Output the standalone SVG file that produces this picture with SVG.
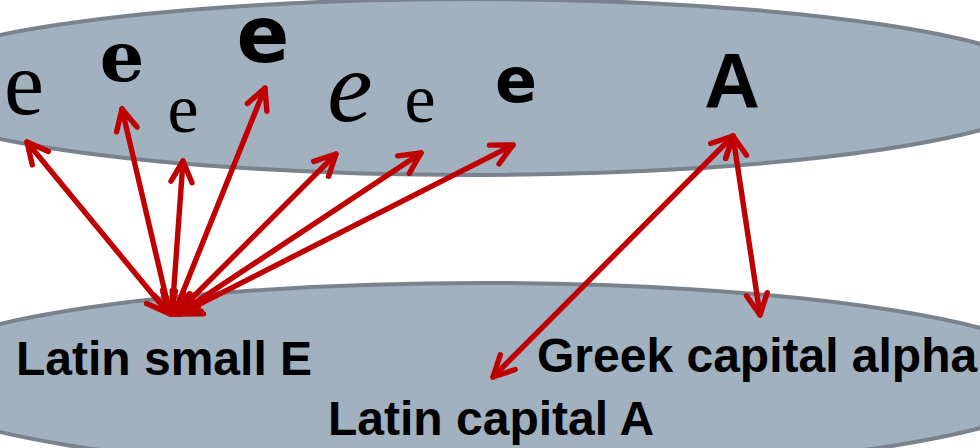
<svg xmlns="http://www.w3.org/2000/svg" width="980" height="448" viewBox="0 0 980 448">
<style>
.set{fill:#A2B1C0;stroke:#78838E;stroke-width:4}
.lbl{font-family:"Liberation Sans",Arial,sans-serif;font-weight:bold;font-size:48px;fill:#000}
.g{fill:#000;text-anchor:middle}
.arr{stroke:#C00000;stroke-width:5.4;fill:none;stroke-linecap:round;marker-start:url(#ah);marker-end:url(#ah)}
</style>
<defs>
<marker id="ah" viewBox="-28 -15 32 30" refX="0" refY="0" markerWidth="32" markerHeight="30" markerUnits="userSpaceOnUse" orient="auto-start-reverse">
<path d="M-21,-10.5 L0,0 L-21,10.5" fill="none" stroke="#C00000" stroke-width="5.4" stroke-linecap="round" stroke-linejoin="round"/>
</marker>
</defs>
<g id="bottom-set">
<ellipse class="set" cx="482" cy="378" rx="586" ry="95"/>
<text class="lbl" x="16" y="375">Latin small E</text>
<text class="lbl" x="537" y="372">Greek capital alpha</text>
<text class="lbl" x="328" y="435">Latin capital A</text>
</g>
<g id="top-set">
<ellipse class="set" cx="471" cy="87" rx="584" ry="88"/>
<text class="g" x="24" y="114" style="font-family:'Liberation Serif',serif;font-size:90px">e</text>
<text class="g" x="122" y="81" style="font-family:'DejaVu Serif',serif;font-weight:bold;font-size:70px">e</text>
<text class="g" x="183" y="132" style="font-family:'Liberation Serif',serif;font-size:70px">e</text>
<text class="g" x="263" y="62" style="font-family:'DejaVu Sans',sans-serif;font-weight:bold;font-size:78px">e</text>
<text class="g" x="350" y="121" style="font-family:'Liberation Serif',serif;font-style:italic;font-size:102px">e</text>
<text class="g" x="420" y="122" style="font-family:'Liberation Serif',serif;font-size:70px">e</text>
<text class="g" x="516" y="102" style="font-family:'DejaVu Sans',sans-serif;font-weight:bold;font-size:62px">e</text>
<text class="g" x="732" y="108" style="font-family:'Liberation Sans',sans-serif;font-weight:bold;font-size:77px">A</text>
</g>
<g id="connectors">
<line class="arr" x1="168" y1="313" x2="27" y2="142"/>
<line class="arr" x1="170" y1="314" x2="122" y2="109"/>
<line class="arr" x1="172" y1="314" x2="183" y2="161"/>
<line class="arr" x1="174" y1="314" x2="265" y2="88"/>
<line class="arr" x1="176" y1="314" x2="336" y2="154"/>
<line class="arr" x1="178" y1="314" x2="421" y2="153"/>
<line class="arr" x1="180" y1="314" x2="513" y2="145"/>
<line class="arr" x1="733" y1="136" x2="493" y2="377"/>
<line class="arr" x1="733" y1="136" x2="760" y2="315"/>
</g>
</svg>
